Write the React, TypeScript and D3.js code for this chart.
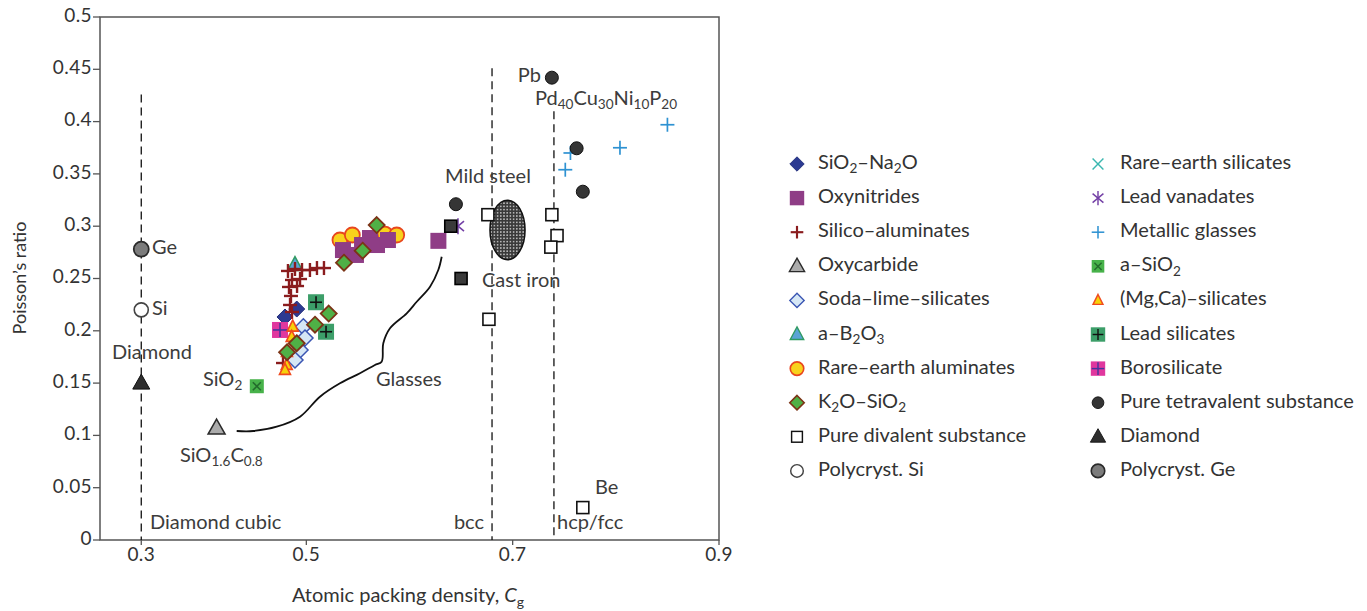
import React from "react";
import * as d3 from "d3";

type P = [number, number];

// ---------- data ----------
const xTickValues = [0.34, 0.5, 0.7, 0.9];
const xTickLabels = ["0.3", "0.5", "0.7", "0.9"];
const yTickValues = [0, 0.05, 0.1, 0.15, 0.2, 0.25, 0.3, 0.35, 0.4, 0.45, 0.5];
const yTickLabels = ["0", "0.05", "0.1", "0.15", "0.2", "0.25", "0.3", "0.35", "0.4", "0.45", "0.5"];

const siO2Na2O: P[] = [[0.4907, 0.2208], [0.4793, 0.2132]];
const oxynitrides: P[] = [[0.5355, 0.2772], [0.5481, 0.2725], [0.554, 0.282], [0.5617, 0.2887], [0.5685, 0.282], [0.5791, 0.2868], [0.628, 0.286]];
const silicoAluminates: P[] = [
  [0.4822, 0.2572], [0.489, 0.2591], [0.4958, 0.2581], [0.5035, 0.2581], [0.5103, 0.26], [0.5171, 0.26],
  [0.4861, 0.2486], [0.4939, 0.2495], [0.4832, 0.2419], [0.491, 0.2428], [0.4851, 0.2333], [0.4842, 0.2247],
  [0.4861, 0.218], [0.4774, 0.1692],
];
const oxycarbide: P[] = [[0.413, 0.107]];
const sodaLime: P[] = [[0.4971, 0.2039], [0.4987, 0.1931], [0.4939, 0.1816], [0.489, 0.1721]];
const aB2O3: P[] = [[0.489, 0.2629]];
const rareEarthAluminates: P[] = [[0.5326, 0.2868], [0.5446, 0.2916], [0.5762, 0.2925], [0.5876, 0.2916]];
const k2oSiO2: P[] = [[0.5682, 0.3011], [0.5546, 0.2766], [0.5365, 0.2651], [0.5217, 0.2165], [0.5084, 0.2058], [0.4907, 0.1881], [0.4813, 0.1795]];
const pureDivalent: P[] = [[0.676, 0.311], [0.738, 0.311], [0.743, 0.291], [0.737, 0.28], [0.677, 0.211], [0.768, 0.031]];
const polySi: P[] = [[0.34, 0.22]];
const rareEarthSilicates: P[] = [];
const leadVanadates: P[] = [[0.647, 0.3]];
const metallicGlasses: P[] = [[0.85, 0.397], [0.804, 0.375], [0.756, 0.37], [0.751, 0.354]];
const aSiO2: P[] = [[0.452, 0.147]];
const mgCaSilicates: P[] = [[0.4868, 0.2039], [0.4858, 0.1941], [0.4812, 0.1797], [0.481, 0.1673], [0.4793, 0.1625]];
const leadSilicates: P[] = [[0.5094, 0.2273], [0.5191, 0.1991]];
const borosilicate: P[] = [[0.4745, 0.2008]];
const pureTetravalent: P[] = [[0.738, 0.442], [0.645, 0.321], [0.762, 0.3745], [0.768, 0.333]];
const diamondPts: P[] = [[0.34, 0.15]];
const polyGe: P[] = [[0.34, 0.278]];
const steelIron: P[] = [[0.64, 0.3], [0.65, 0.25]];
const castIronEllipse = { cx: 0.695, cy: 0.2964, rx: 0.017, ry: 0.0284 };
const glassesCurve: P[] = [
  [0.4325, 0.1042], [0.4486, 0.1042], [0.4713, 0.1083], [0.4939, 0.1179], [0.5132, 0.137], [0.5326, 0.1498],
  [0.552, 0.1594], [0.5665, 0.1673], [0.573, 0.1705], [0.5746, 0.1881], [0.5811, 0.2024], [0.5973, 0.2167],
  [0.607, 0.2278], [0.6199, 0.2422], [0.6279, 0.2581], [0.6312, 0.2708],
];
const structureLines = [
  { x: 0.34, top: 0.426, label: "Diamond cubic" },
  { x: 0.68, top: 0.451, label: "bcc" },
  { x: 0.74, top: 0.41, label: "hcp/fcc" },
];

const legendLeft = [
  { kind: "naDiamond", label: "SiO_{2}–Na_{2}O" },
  { kind: "oxyn", label: "Oxynitrides" },
  { kind: "siloAl", label: "Silico–aluminates" },
  { kind: "oxycarb", label: "Oxycarbide" },
  { kind: "sodaLime", label: "Soda–lime–silicates" },
  { kind: "aB2O3", label: "a–B_{2}O_{3}" },
  { kind: "reAl", label: "Rare–earth aluminates" },
  { kind: "k2o", label: "K_{2}O–SiO_{2}" },
  { kind: "divalent", label: "Pure divalent substance" },
  { kind: "polySi", label: "Polycryst. Si" },
];
const legendRight = [
  { kind: "reSil", label: "Rare–earth silicates" },
  { kind: "leadVan", label: "Lead vanadates" },
  { kind: "metGlass", label: "Metallic glasses" },
  { kind: "aSiO2", label: "a–SiO_{2}" },
  { kind: "mgca", label: "(Mg,Ca)–silicates" },
  { kind: "leadSil", label: "Lead silicates" },
  { kind: "boro", label: "Borosilicate" },
  { kind: "tetra", label: "Pure tetravalent substance" },
  { kind: "diamond", label: "Diamond" },
  { kind: "polyGe", label: "Polycryst. Ge" },
];

// ---------- layout ----------
const W = 1367, H = 611;
const FONT = "Lato, 'Open Sans', sans-serif";
const x = d3.scaleLinear().domain([0.3, 0.9]).range([100, 719]);
const y = d3.scaleLinear().domain([0, 0.5]).range([540, 17]);
const TXT = "#3c3c3c";

function Rich({ x, y, text, size = 20, anchor = "start", fill = TXT }: any) {
  const parts: { t: string; sub: boolean }[] = [];
  const re = /_\{([^}]*)\}/g;
  let last = 0;
  let m;
  while ((m = re.exec(text))) {
    if (m.index > last) parts.push({ t: text.slice(last, m.index), sub: false });
    parts.push({ t: m[1], sub: true });
    last = m.index + m[0].length;
  }
  if (last < text.length) parts.push({ t: text.slice(last), sub: false });
  const shift = size * 0.32;
  let cur = 0;
  return (
    <text x={x} y={y} fontSize={size} fontFamily={FONT} fill={fill} textAnchor={anchor} dominantBaseline="middle">
      {parts.map((p, i) => {
        const target = p.sub ? shift : 0;
        const dy = target - cur;
        cur = target;
        return (
          <tspan key={i} dy={dy} fontSize={p.sub ? size * 0.68 : size}>{p.t}</tspan>
        );
      })}
    </text>
  );
}

function Marker({ kind, cx, cy, s = 1 }: { kind: string; cx: number; cy: number; s?: number }) {
  const t = `translate(${cx},${cy}) scale(${s})`;
  const dia = (r: number) => `M0,${-r}L${r},0L0,${r}L${-r},0Z`;
  const tri = (w: number, h: number) => `M0,${-h * 0.6}L${w / 2},${h * 0.4}L${-w / 2},${h * 0.4}Z`;
  switch (kind) {
    case "naDiamond":
      return <path transform={t} d={dia(8)} fill="#2c3a92" stroke="#232f7a" strokeWidth={1} />;
    case "oxyn":
      return <rect transform={t} x={-8} y={-8} width={16} height={16} fill="#8f3d86" />;
    case "siloAl":
      return (
        <g transform={t} stroke="#8a1c1e" strokeWidth={2.4}>
          <line x1={-7} x2={7} y1={0} y2={0} />
          <line x1={0} x2={0} y1={-7} y2={7} />
        </g>
      );
    case "oxycarb":
      return <path transform={t} d={tri(17, 15)} fill="#ababab" stroke="#2a2a2a" strokeWidth={1.5} />;
    case "sodaLime":
      return <path transform={t} d={dia(8)} fill="#d6e7f5" stroke="#3a55b3" strokeWidth={1.5} />;
    case "aB2O3":
      return <path transform={t} d={tri(15, 14)} fill="#5aa3d6" stroke="#2f9a62" strokeWidth={1.5} />;
    case "reAl":
      return <circle transform={t} r={7.5} fill="#f8d21c" stroke="#e8461e" strokeWidth={1.8} />;
    case "k2o":
      return <path transform={t} d={dia(8)} fill="#4fb046" stroke="#7b3416" strokeWidth={1.8} />;
    case "divalent":
      return <rect transform={t} x={-6} y={-6} width={12} height={12} fill="#fff" stroke="#111" strokeWidth={1.6} />;
    case "polySi":
      return <circle transform={t} r={7} fill="#fff" stroke="#444" strokeWidth={1.6} />;
    case "reSil":
      return (
        <g transform={t} stroke="#3bb7b0" strokeWidth={1.6}>
          <line x1={-6} x2={6} y1={-6} y2={6} />
          <line x1={-6} x2={6} y1={6} y2={-6} />
        </g>
      );
    case "leadVan":
      return (
        <g transform={t} stroke="#7440a6" strokeWidth={1.6}>
          <line x1={0} x2={0} y1={-8} y2={8} />
          <line x1={-6} x2={6} y1={-5} y2={5} />
          <line x1={-6} x2={6} y1={5} y2={-5} />
        </g>
      );
    case "metGlass":
      return (
        <g transform={t} stroke="#2e92d2" strokeWidth={1.7}>
          <line x1={-7} x2={7} y1={0} y2={0} />
          <line x1={0} x2={0} y1={-7} y2={7} />
        </g>
      );
    case "aSiO2":
      return (
        <g transform={t}>
          <rect x={-7} y={-7} width={14} height={14} fill="#47b24a" />
          <g stroke="#236b2c" strokeWidth={1.6}>
            <line x1={-4} x2={4} y1={-4} y2={4} />
            <line x1={-4} x2={4} y1={4} y2={-4} />
          </g>
        </g>
      );
    case "mgca":
      return <path transform={t} d={tri(11, 11)} fill="#f6d20a" stroke="#f04a1e" strokeWidth={1.6} />;
    case "leadSil":
      return (
        <g transform={t}>
          <rect x={-8} y={-8} width={16} height={16} fill="#3c9e69" />
          <g stroke="#111" strokeWidth={1.6}>
            <line x1={-6} x2={6} y1={0} y2={0} />
            <line x1={0} x2={0} y1={-6} y2={6} />
          </g>
        </g>
      );
    case "boro":
      return (
        <g transform={t}>
          <rect x={-8} y={-8} width={16} height={16} fill="#e0379e" />
          <g stroke="#46359d" strokeWidth={1.6}>
            <line x1={-7} x2={7} y1={0} y2={0} />
            <line x1={0} x2={0} y1={-7} y2={7} />
          </g>
        </g>
      );
    case "tetra":
      return <circle transform={t} r={6.5} fill="#353535" stroke="#111" strokeWidth={1} />;
    case "diamond":
      return <path transform={t} d={tri(17, 15)} fill="#2e2e2e" stroke="#111" strokeWidth={1} />;
    case "polyGe":
      return <circle transform={t} r={7.5} fill="#7c7c7c" stroke="#2a2a2a" strokeWidth={1.8} />;
    case "steel":
      return <rect transform={t} x={-6} y={-6} width={12} height={12} fill="#3a3a3a" stroke="#000" strokeWidth={1.6} />;
    default:
      return null;
  }
}

function Series({ data, kind }: { data: P[]; kind: string }) {
  return (
    <g>
      {data.map((d, i) => (
        <Marker key={i} kind={kind} cx={x(d[0])} cy={y(d[1])} />
      ))}
    </g>
  );
}

export default function App() {
  const line = d3.line<P>().x((d) => x(d[0])).y((d) => y(d[1])).curve(d3.curveCatmullRom.alpha(0.5));
  const rowY = (i: number) => 164 + i * 34.1;
  return (
    <div style={{ position: "absolute", left: 0, top: 0 }}>
      <svg width={W} height={H} style={{ display: "block", background: "#fff" }}>
        <defs>
          <pattern id="dots" width={3.2} height={3.2} patternUnits="userSpaceOnUse">
            <rect width={3.2} height={3.2} fill="#3a3a3a" />
            <circle cx={1.6} cy={1.6} r={0.75} fill="#e8e8e8" />
          </pattern>
        </defs>

        {/* frame */}
        <rect x={100} y={17} width={619} height={523} fill="none" stroke="#555" strokeWidth={1.5} />

        {/* y axis ticks */}
        {yTickValues.map((v, i) => (
          <g key={i}>
            <line x1={93} x2={100} y1={y(v)} y2={y(v)} stroke="#555" strokeWidth={1.3} />
            <text x={92} y={y(v)} textAnchor="end" dominantBaseline="middle" fontSize={19} letterSpacing={0.4} fontFamily={FONT} fill="#333">
              {yTickLabels[i]}
            </text>
          </g>
        ))}
        {/* x axis ticks */}
        {xTickValues.map((v, i) => (
          <g key={i}>
            <line x1={x(v)} x2={x(v)} y1={540} y2={545} stroke="#555" strokeWidth={1.3} />
            <text x={x(v)} y={556} textAnchor="middle" dominantBaseline="middle" fontSize={19} letterSpacing={0.4} fontFamily={FONT} fill="#333">
              {xTickLabels[i]}
            </text>
          </g>
        ))}

        {/* axis titles */}
        <text transform="translate(21,278) rotate(-90)" textAnchor="middle" dominantBaseline="middle" fontSize={18} fontFamily={FONT} fill="#333">
          Poisson’s ratio
        </text>
        <text x={408} y={597} textAnchor="middle" dominantBaseline="middle" fontSize={20} fontFamily={FONT} fill="#333">
          Atomic packing density, <tspan fontStyle="italic">C</tspan>
          <tspan dy={6} fontSize={14}>g</tspan>
        </text>

        {/* structure lines */}
        {structureLines.map((s, i) => (
          <line key={i} x1={x(s.x)} x2={x(s.x)} y1={y(s.top)} y2={540} stroke="#111" strokeWidth={1.3} strokeDasharray="8,5" />
        ))}

        {/* glasses boundary */}
        <path d={line(glassesCurve) || ""} fill="none" stroke="#111" strokeWidth={1.8} />

        {/* cast iron ellipse */}
        <ellipse
          cx={x(castIronEllipse.cx)}
          cy={y(castIronEllipse.cy)}
          rx={x(castIronEllipse.cx + castIronEllipse.rx) - x(castIronEllipse.cx)}
          ry={y(castIronEllipse.cy) - y(castIronEllipse.cy + castIronEllipse.ry)}
          fill="url(#dots)"
          stroke="#111"
          strokeWidth={1.5}
        />

        {/* series */}
        <Series data={sodaLime} kind="sodaLime" />
        <Series data={siO2Na2O} kind="naDiamond" />
        <Series data={borosilicate} kind="boro" />
        <Series data={aB2O3} kind="aB2O3" />
        <Series data={silicoAluminates} kind="siloAl" />
        <Series data={mgCaSilicates} kind="mgca" />
        <Series data={leadSilicates} kind="leadSil" />
        <Series data={rareEarthAluminates} kind="reAl" />
        <Series data={oxynitrides} kind="oxyn" />
        <Series data={k2oSiO2} kind="k2o" />
        <Series data={aSiO2} kind="aSiO2" />
        <Series data={oxycarbide} kind="oxycarb" />
        <Series data={rareEarthSilicates} kind="reSil" />
        <Series data={leadVanadates} kind="leadVan" />
        <Series data={steelIron} kind="steel" />
        <Series data={pureDivalent} kind="divalent" />
        <Series data={metallicGlasses} kind="metGlass" />
        <Series data={pureTetravalent} kind="tetra" />
        <Series data={polySi} kind="polySi" />
        <Series data={polyGe} kind="polyGe" />
        <Series data={diamondPts} kind="diamond" />

        {/* annotations */}
        <Rich x={152} y={249} text="Ge" />
        <Rich x={152} y={310} text="Si" />
        <Rich x={152} y={354} text="Diamond" anchor="middle" />
        <Rich x={203} y={381} text="SiO_{2}" />
        <Rich x={180} y={457} text="SiO_{1.6}C_{0.8}" />
        <Rich x={376} y={381} text="Glasses" />
        <Rich x={150} y={524} text="Diamond cubic" />
        <Rich x={484} y={524} text="bcc" anchor="end" />
        <Rich x={557} y={524} text="hcp/fcc" />
        <Rich x={595} y={489} text="Be" />
        <Rich x={482} y={282} text="Cast iron" />
        <Rich x={445} y={178} text="Mild steel" />
        <Rich x={541} y={77} text="Pb" anchor="end" />
        <Rich x={535} y={100} text="Pd_{40}Cu_{30}Ni_{10}P_{20}" />

        {/* legend */}
        {legendLeft.map((l, i) => (
          <g key={"l" + i}>
            <Marker kind={l.kind} cx={797} cy={rowY(i)} s={0.9} />
            <Rich x={818} y={rowY(i)} text={l.label} size={20} fill="#333" />
          </g>
        ))}
        {legendRight.map((l, i) => (
          <g key={"r" + i}>
            <Marker kind={l.kind} cx={1098} cy={rowY(i)} s={0.9} />
            <Rich x={1120} y={rowY(i)} text={l.label} size={20} fill="#333" />
          </g>
        ))}
      </svg>
    </div>
  );
}
